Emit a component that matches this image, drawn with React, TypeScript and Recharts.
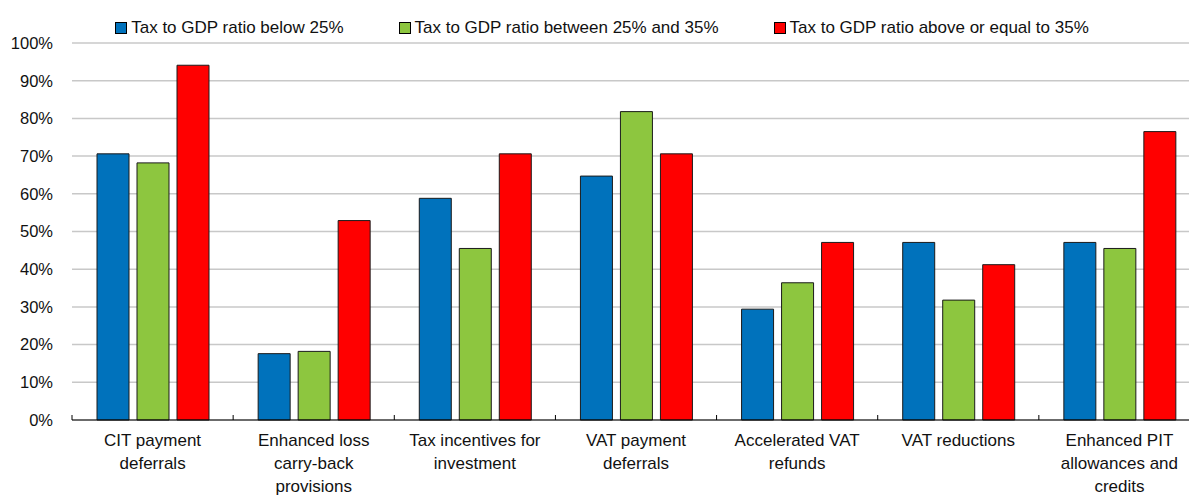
import { BarChart, Bar, XAxis, YAxis, CartesianGrid, Legend } from "recharts";

const categories = [
  "CIT payment\ndeferrals",
  "Enhanced loss\ncarry-back\nprovisions",
  "Tax incentives for\ninvestment",
  "VAT payment\ndeferrals",
  "Accelerated VAT\nrefunds",
  "VAT reductions",
  "Enhanced PIT\nallowances and\ncredits",
];

const below25 = [70.6, 17.6, 58.8, 64.7, 29.4, 47.1, 47.1];
const between25and35 = [68.2, 18.2, 45.5, 81.8, 36.4, 31.8, 45.5];
const above35 = [94.1, 52.9, 70.6, 70.6, 47.1, 41.2, 76.5];

const yTicks = [0, 10, 20, 30, 40, 50, 60, 70, 80, 90, 100];

const series = [
  { key: "below", name: "Tax to GDP ratio below 25%", color: "#0072BC" },
  { key: "between", name: "Tax to GDP ratio between 25% and 35%", color: "#8DC63F" },
  { key: "above", name: "Tax to GDP ratio above or equal to 35%", color: "#FF0000" },
];

const data = categories.map((category, i) => ({
  category,
  below: below25[i],
  between: between25and35[i],
  above: above35[i],
}));

function CategoryTick({ x, y, payload }: any) {
  const lines = String(payload.value).split("\n");
  const left = x - (payload.offset ?? 0);
  return (
    <g>
      <line x1={left} x2={left} y1={y} y2={y - 5} stroke="#000" strokeWidth={1} />
      <text x={x} y={y} textAnchor="middle" fontSize={17} fill="#111">
        {lines.map((line, i) => (
          <tspan key={i} x={x} dy={i === 0 ? 25.5 : 23}>
            {line}
          </tspan>
        ))}
      </text>
    </g>
  );
}

function LegendBox() {
  return (
    <div
      style={{
        display: "flex",
        justifyContent: "center",
        height: 35,
        paddingTop: 5,
        paddingLeft: 4,
        boxSizing: "border-box",
        fontSize: 17,
        lineHeight: "20px",
        color: "#111",
      }}
    >
      {series.map((s, i) => (
        <div
          key={s.key}
          style={{ display: "flex", alignItems: "center", marginLeft: i > 0 ? 55 : 0 }}
        >
          <span
            style={{
              width: 12,
              height: 12,
              border: "1px solid #000",
              boxSizing: "border-box",
              background: s.color,
              marginRight: 4,
              display: "inline-block",
            }}
          />
          <span style={{ whiteSpace: "nowrap" }}>{s.name}</span>
        </div>
      ))}
    </div>
  );
}

export default function App() {
  return (
    <div
      style={{
        position: "absolute",
        left: 0,
        top: 0,
        width: 1189,
        height: 495,
        overflow: "hidden",
        background: "#fff",
        fontFamily: "'Liberation Sans', Arial, sans-serif",
      }}
    >
      <BarChart
        width={1200}
        height={495}
        data={data}
        barGap={8}
        margin={{ top: 8, right: 0, left: 0, bottom: 0 }}
      >
        <CartesianGrid vertical={false} stroke="#c8c8c8" strokeWidth={1.5} />
        <Legend verticalAlign="top" align="center" content={() => <LegendBox />} />
        <XAxis
          dataKey="category"
          height={75}
          interval={0}
          tickLine={false}
          tickSize={0}
          tickMargin={0}
          axisLine={{ stroke: "#000", strokeWidth: 1.2 }}
          tick={<CategoryTick />}
        />
        <YAxis
          width={72}
          domain={[0, 100]}
          ticks={yTicks}
          interval={0}
          axisLine={false}
          tickLine={false}
          tickSize={0}
          tickMargin={19}
          tick={{ fontSize: 16.5, fill: "#111" }}
          tickFormatter={(v: number) => `${v}%`}
        />
        {series.map((s) => (
          <Bar
            key={s.key}
            dataKey={s.key}
            name={s.name}
            fill={s.color}
            stroke="#1a1a1a"
            strokeWidth={1}
            barSize={32}
            isAnimationActive={false}
          />
        ))}
      </BarChart>
    </div>
  );
}
